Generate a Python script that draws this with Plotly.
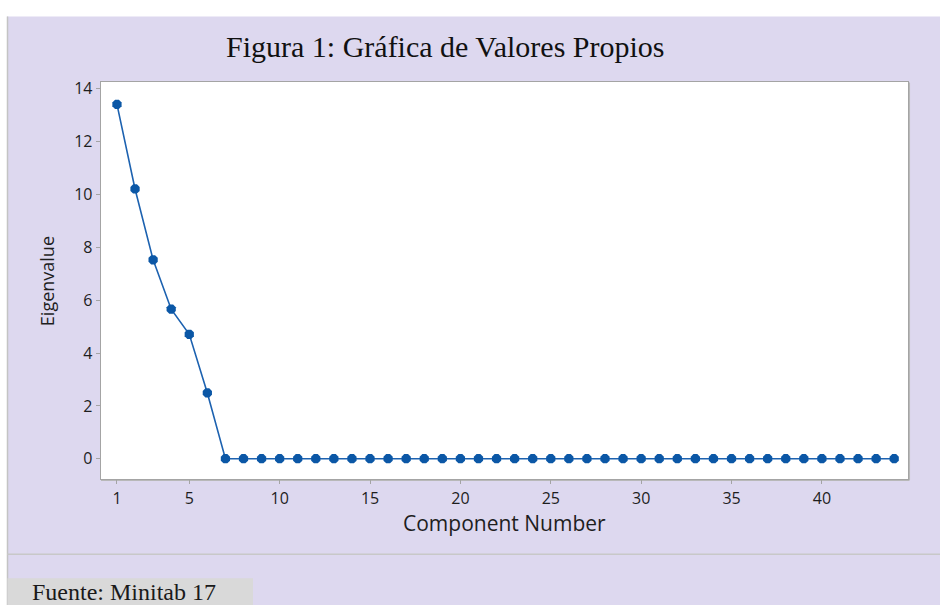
import plotly.graph_objects as go

# ---- data ----
components = [1, 2, 3, 4, 5, 6, 7, 8, 9, 10, 11, 12, 13, 14, 15, 16, 17, 18, 19, 20, 21, 22,
              23, 24, 25, 26, 27, 28, 29, 30, 31, 32, 33, 34, 35, 36, 37, 38, 39, 40, 41, 42, 43, 44]
eigenvalues = [13.41, 10.21, 7.53, 5.66, 4.71, 2.49, 0.0, 0.0, 0.0, 0.0, 0.0, 0.0, 0.0, 0.0, 0.0,
               0.0, 0.0, 0.0, 0.0, 0.0, 0.0, 0.0, 0.0, 0.0, 0.0, 0.0, 0.0, 0.0, 0.0, 0.0, 0.0,
               0.0, 0.0, 0.0, 0.0, 0.0, 0.0, 0.0, 0.0, 0.0, 0.0, 0.0, 0.0, 0.0]
x_tick_values = [1, 5, 10, 15, 20, 25, 30, 35, 40]
y_tick_values = [0, 2, 4, 6, 8, 10, 12, 14]

title_text = "Figura 1: Gráfica de Valores Propios"
x_title = "Component Number"
y_title = "Eigenvalue"
source_text = "Fuente: Minitab 17"

# ---- geometry helpers (pixel -> paper) ----
W, H = 940, 605
def px(x):
    return x / W
def py(y):
    return 1 - y / H

LAVENDER = "rgb(221,216,239)"
BLUE = "#0b57a6"
TXT = "#1e1e1e"

fig = go.Figure()
fig.add_trace(go.Scatter(
    x=components, y=eigenvalues, mode="lines+markers",
    line=dict(color="#1d62b0", width=1.6),
    marker=dict(symbol="octagon", size=10, color=BLUE, line=dict(width=0)),
    hoverinfo="x+y", showlegend=False,
))

axis_common = dict(
    showgrid=False, zeroline=False, showline=True, mirror=True,
    linecolor="#a4a4a4", linewidth=1,
    ticks="outside", ticklen=4, tickcolor="#a4a4a4", tickwidth=1,
    tickfont=dict(family="Open Sans", size=16, color=TXT),
)

fig.update_layout(
    width=W, height=H,
    margin=dict(l=0, r=0, t=0, b=0),
    paper_bgcolor="white", plot_bgcolor="white",
    xaxis=dict(domain=[px(100.7), px(908.3)], range=[0.1, 44.78],
               tickmode="array", tickvals=x_tick_values, **axis_common),
    yaxis=dict(domain=[py(478.5), py(78.5)], range=[-0.78, 14.26],
               tickmode="array", tickvals=y_tick_values, **axis_common),
    shapes=[
        # lavender panel
        dict(type="rect", xref="paper", yref="paper", x0=px(7), x1=1.0, y0=0, y1=py(12.5),
             fillcolor=LAVENDER, line=dict(width=0), layer="below"),
        # left border of panel
        dict(type="line", xref="paper", yref="paper", x0=px(7.5), x1=px(7.5), y0=0, y1=py(12.5),
             line=dict(color="#c4c4c4", width=1.5), layer="below"),
        # separator line
        dict(type="line", xref="paper", yref="paper", x0=px(7), x1=1.0, y0=py(554), y1=py(554),
             line=dict(color="#c8c8c8", width=1.5), layer="below"),
        # source box
        dict(type="rect", xref="paper", yref="paper", x0=px(7.5), x1=px(253), y0=0, y1=py(578),
             fillcolor="#d9d9d9", line=dict(width=0), layer="below"),
        # plot area background
        dict(type="rect", xref="paper", yref="paper", x0=px(100.7), x1=px(908.3),
             y0=py(478.5), y1=py(78.5), fillcolor="white", line=dict(width=0), layer="below"),
        # subtle shadow right/bottom of plot frame
        dict(type="line", xref="paper", yref="paper", x0=px(909.3), x1=px(909.3),
             y0=py(479.5), y1=py(79), line=dict(color="#b8b8b8", width=1.5), layer="below"),
        dict(type="line", xref="paper", yref="paper", x0=px(101), x1=px(909.3),
             y0=py(479.5), y1=py(479.5), line=dict(color="#b8b8b8", width=1.5), layer="below"),
    ],
    annotations=[
        dict(text=title_text, xref="paper", yref="paper", x=px(445), y=py(43),
             xanchor="center", yanchor="middle", showarrow=False,
             font=dict(family="Liberation Serif", size=30, color="#111111")),
        dict(text=x_title, xref="paper", yref="paper", x=px(504), y=py(522),
             xanchor="center", yanchor="middle", showarrow=False,
             font=dict(family="Open Sans", size=21, color=TXT)),
        dict(text=y_title, xref="paper", yref="paper", x=px(47), y=py(279),
             xanchor="center", yanchor="middle", showarrow=False, textangle=-90,
             font=dict(family="Open Sans", size=18, color=TXT)),
        dict(text=source_text, xref="paper", yref="paper", x=px(30), y=py(592),
             xanchor="left", yanchor="middle", showarrow=False,
             font=dict(family="Liberation Serif", size=24, color="#1a1a1a")),
    ],
)

fig.write_html("out.html", config={"displayModeBar": False},
               post_script="document.body.style.margin='0px';")
